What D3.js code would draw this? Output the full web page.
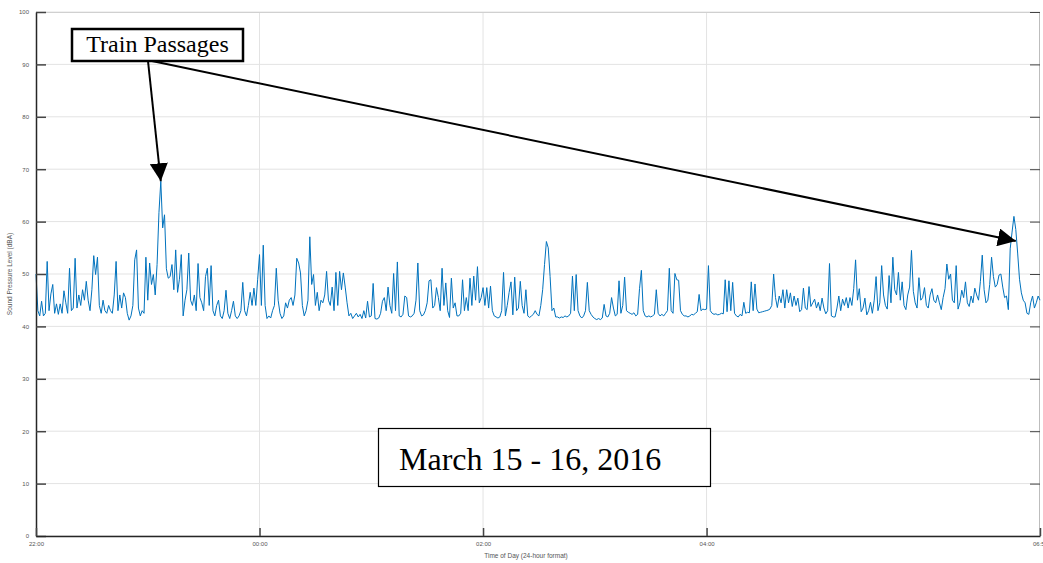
<!DOCTYPE html>
<meta charset="utf-8">
<script src="https://d3js.org/d3.v7.min.js"></script>
<style>
  body { margin: 0; background: #fff; }
</style>
<div id="chart"></div>
<script>
// Sound level, one reading per minute from 22:00 (March 15) to 06:59 (March 16)
var startTime = new Date(2016, 2, 15, 22, 0);
var endTime = new Date(2016, 2, 16, 6, 59);
var splValues = [
  50, 43, 42, 44.8, 42, 42.5, 52.4, 43, 46.2, 48,
  42.5, 44.3, 42.3, 44.3, 42.5, 46.8, 44.5, 42.5, 51.1, 43,
  43.5, 53, 43.5, 46, 44, 47, 45, 48.6, 45, 43,
  47, 53.5, 49.9, 53.2, 44, 42.5, 45, 43, 42.5, 44,
  43, 42.5, 46, 52.4, 43, 46, 43.5, 46.4, 45.5, 42.5,
  41.2, 42, 44, 52.7, 54.6, 43.5, 42, 43, 42.5, 53.2,
  45, 52.1, 48, 49.9, 46, 51.8, 61.7, 67.7, 58.8, 61.3,
  51, 49.2, 49.5, 51.8, 47, 54.6, 46.5, 49, 53.7, 42,
  45, 47, 54, 45, 44, 46, 43, 52, 45.5, 44.5,
  43, 49.5, 51.1, 44, 51.6, 43, 42, 44, 45, 42,
  41.5, 43, 46.9, 42.5, 41.5, 43, 44.8, 42, 41.5, 42,
  43, 48.4, 43, 42, 44, 46.5, 44, 47.3, 44, 49,
  53.7, 44, 55.5, 44, 41.5, 42, 41.6, 43, 44, 51.1,
  45, 42.5, 41.5, 42, 44.5, 43.5, 45, 45.5, 44, 46,
  53, 52.1, 50.2, 44, 42, 43, 45, 57.1, 48, 49.9,
  44, 46.5, 43, 45, 44.5, 46, 50.5, 45, 44, 47.5,
  43, 50.3, 44, 50.5, 47, 50.2, 47.5, 44.5, 42, 42.5,
  41.5, 42, 42.5, 41.8, 42.3, 41.5, 43, 41.6, 44.8, 41.8,
  42, 48.2, 41.5, 41.4, 41.6, 42.5, 44.8, 45.5, 43, 47.5,
  44, 42.5, 50.1, 43, 52.3, 42, 41.8, 42.3, 45.8, 45.5,
  42, 41.8, 42, 42.5, 45, 52.1, 43, 42, 42.2, 43,
  44.5, 48.7, 48.9, 43.5, 44, 47.4, 45.5, 43, 51.1, 44,
  48.3, 43, 41.7, 49.2, 43.5, 44.5, 42, 42, 42.5, 48.9,
  43, 45.5, 43, 49.2, 44, 49.6, 45, 51.4, 44.5, 45.5,
  47.4, 44, 47.4, 43.5, 47.7, 43, 42, 41.8, 41.6, 41.8,
  43, 50.3, 42, 44, 46.5, 48.5, 42.2, 49.4, 43, 43.5,
  48.6, 44, 42.5, 47, 42, 41.7, 42, 42.3, 43, 42.3,
  42, 44, 47, 51.8, 56.2, 55, 49.5, 43, 43.5, 41.8,
  41.8, 41.6, 41.8, 41.7, 42, 41.8, 42, 42.5, 49.6, 43,
  49.9, 43, 42, 41.6, 42, 43, 48.4, 43, 42.3, 41.8,
  41.5, 41.3, 41.5, 41.3, 41.6, 44.2, 42, 41.8, 42.5, 45.5,
  43.5, 42, 42.3, 48.7, 42.5, 44, 49.4, 43, 42.7, 42.5,
  42.3, 42.6, 42, 42.3, 47.2, 50.7, 43, 42, 41.8, 42,
  41.8, 42, 42.3, 47, 42.5, 42, 42.3, 42, 42.5, 43,
  51.1, 43, 42.5, 50.1, 48.9, 48.8, 43, 42.3, 42, 42,
  41.8, 42, 42.3, 42.2, 42.5, 42.8, 46.1, 43, 43.3, 43.2,
  43.3, 51.6, 43, 42.5, 42.3, 42.4, 42.2, 42.3, 42.5, 42.4,
  48.9, 42.8, 48.7, 43, 48.4, 42.5, 42, 41.8, 42.3, 42,
  44.6, 42.5, 42.7, 42.6, 48.5, 43, 48.1, 43.3, 42.6, 42.7,
  42.8, 42.9, 43, 43.1, 43.3, 44, 50, 45.5, 43.6, 45.8,
  44.5, 47, 43.5, 47, 44.5, 46.4, 43.8, 45.8, 44, 45.4,
  42.8, 43.2, 47.3, 43.5, 43.2, 47.6, 43.8, 44.5, 45.2, 43.5,
  44.6, 43, 45.4, 43.5, 42.4, 43, 52, 42, 41.8, 41.8,
  43.5, 45.8, 43, 45.2, 44, 45.5, 43.5, 45.5, 44, 47.2,
  52.7, 45, 47.2, 42.8, 43.5, 45.4, 42.2, 43, 44.6, 42.5,
  45, 49.5, 43, 44.5, 51.6, 46, 44, 43.3, 49.7, 44.5,
  53.2, 47, 46, 50.3, 45, 48.5, 44, 43.2, 46, 47.5,
  54.5, 46.7, 44.5, 43.5, 49.3, 45, 45.5, 47.4, 44, 43.5,
  46, 47.2, 45, 44.5, 46, 44.5, 43.2, 45.5, 47.2, 51.9,
  49, 50, 45, 44.5, 51.6, 43.3, 44.5, 46.9, 45.5, 48.5,
  44.5, 43.8, 45.8, 44.5, 47.3, 46, 45, 48.6, 53.6, 47,
  44.5, 45, 48, 53.2, 49.5, 47.5, 48, 49.8, 50, 47.5,
  45.5, 45.8, 43.2, 54.8, 58, 61, 58.5, 54, 49, 46.4,
  45, 44.5, 42.5, 42.3, 44.5, 45.8, 43.5, 44.5, 45.8, 45
];
var yTicks = [0, 10, 20, 30, 40, 50, 60, 70, 80, 90, 100];
var xTicks = [
  new Date(2016, 2, 15, 22, 0),
  new Date(2016, 2, 16, 0, 0),
  new Date(2016, 2, 16, 2, 0),
  new Date(2016, 2, 16, 4, 0),
  endTime
];
// where the two arrows land: minute index into splValues, and level in dBA
var arrowMinutes = [67, 526];
var arrowLevels = [67.7, 56.3];
var calloutText = "Train Passages";
var dateText = "March 15 - 16, 2016";

var W = 1043, H = 563;
var margin = {top: 12, right: 3, bottom: 27, left: 36},
    width = W - margin.left - margin.right,
    height = H - margin.top - margin.bottom;

var data = splValues.map(function(v, i) {
  return {t: d3.timeMinute.offset(startTime, i), v: v};
});

var svg = d3.select("#chart").append("svg")
    .attr("width", W)
    .attr("height", H)
    .style("font-family", "Liberation Sans, Arial, sans-serif");

var g = svg.append("g")
    .attr("transform", "translate(" + margin.left + "," + margin.top + ")");

var x = d3.scaleTime().domain([startTime, endTime]).range([0, width]);
var y = d3.scaleLinear().domain([0, 100]).range([height, 0]);

// grid
g.append("g").selectAll("line")
  .data(yTicks)
  .enter().append("line")
    .attr("x1", 0).attr("x2", width)
    .attr("y1", function(d) { return y(d); })
    .attr("y2", function(d) { return y(d); })
    .attr("stroke", "#e3e3e3")
    .attr("stroke-width", 1);
g.append("g").selectAll("line")
  .data(xTicks.slice(1, 4))
  .enter().append("line")
    .attr("x1", function(d) { return x(d); })
    .attr("x2", function(d) { return x(d); })
    .attr("y1", 0).attr("y2", height)
    .attr("stroke", "#e3e3e3")
    .attr("stroke-width", 1);

// box on top and right
g.append("line").attr("x1", 0).attr("x2", width).attr("y1", 0.5).attr("y2", 0.5)
  .attr("stroke", "#d0d0d0");
g.append("line").attr("x1", width - 0.5).attr("x2", width - 0.5).attr("y1", 0).attr("y2", height)
  .attr("stroke", "#bdbdbd");

// the series
var line = d3.line()
  .x(function(d) { return x(d.t); })
  .y(function(d) { return y(d.v); });

g.append("path")
  .datum(data)
  .attr("fill", "none")
  .attr("stroke", "#0072bd")
  .attr("stroke-width", 1)
  .attr("d", line);

// axes (ticks point inwards, MATLAB style)
var yAxis = d3.axisLeft(y).tickValues(yTicks).tickSizeInner(-10).tickSizeOuter(0).tickPadding(7);
var yAxisR = d3.axisRight(y).tickValues(yTicks).tickSizeInner(-10).tickSizeOuter(0).tickFormat("");
var xAxis = d3.axisBottom(x).tickValues(xTicks).tickSizeInner(-8).tickSizeOuter(0)
  .tickPadding(6).tickFormat(d3.timeFormat("%H:%M"));

g.append("g").call(yAxisR)
  .attr("transform", "translate(" + width + ",0)")
  .call(function(s) {
    s.select(".domain").remove();
    s.selectAll(".tick line").attr("stroke", "#444");
  });

var ya = g.append("g").call(yAxis);
var xa = g.append("g").attr("transform", "translate(0," + height + ")").call(xAxis);

[ya, xa].forEach(function(a) {
  a.select(".domain").attr("stroke", "#262626").attr("stroke-width", 1.5);
  a.selectAll(".tick line").attr("stroke", "#444").attr("stroke-width", 1.5);
  a.selectAll(".tick text").attr("fill", "#555").style("font-size", "6px");
});

// axis titles
svg.append("text")
  .attr("transform", "translate(12," + (margin.top + height / 2) + ")rotate(-90)")
  .attr("text-anchor", "middle")
  .attr("fill", "#555")
  .style("font-size", "6.5px")
  .text("Sound Pressure Level (dBA)");

svg.append("text")
  .attr("x", 526)
  .attr("y", 558)
  .attr("text-anchor", "middle")
  .attr("fill", "#555")
  .style("font-size", "6.5px")
  .text("Time of Day (24-hour format)");

// arrows
var defs = svg.append("defs");
defs.append("marker")
    .attr("id", "head")
    .attr("viewBox", "0 0 10 10")
    .attr("refX", 10).attr("refY", 5)
    .attr("markerWidth", 9).attr("markerHeight", 9)
    .attr("markerUnits", "strokeWidth")
    .attr("orient", "auto")
  .append("path")
    .attr("d", "M0,0 L10,5 L0,10 Z")
    .attr("fill", "#000");

var boxL = 72, boxT = 29, boxW = 171, boxH = 32;
var starts = [[148, boxT + boxH], [152, boxT + boxH]];
arrowMinutes.forEach(function(m, i) {
  svg.append("line")
    .attr("x1", starts[i][0]).attr("y1", starts[i][1])
    .attr("x2", margin.left + x(d3.timeMinute.offset(startTime, m)))
    .attr("y2", margin.top + y(arrowLevels[i]))
    .attr("stroke", "#000")
    .attr("stroke-width", 2)
    .attr("marker-end", "url(#head)");
});

// callout box
svg.append("rect")
  .attr("x", boxL).attr("y", boxT)
  .attr("width", boxW).attr("height", boxH)
  .attr("fill", "#fff").attr("stroke", "#000").attr("stroke-width", 2.5);
svg.append("text")
  .attr("x", boxL + boxW / 2).attr("y", boxT + 23)
  .attr("text-anchor", "middle")
  .style("font-family", "Liberation Serif, Times New Roman, serif")
  .style("font-size", "24px")
  .text(calloutText);

// date box
svg.append("rect")
  .attr("x", 378.5).attr("y", 428.5)
  .attr("width", 332).attr("height", 58)
  .attr("fill", "#fff").attr("stroke", "#000").attr("stroke-width", 1.2);
svg.append("text")
  .attr("x", 399).attr("y", 470)
  .style("font-family", "Liberation Serif, Times New Roman, serif")
  .style("font-size", "32px")
  .text(dateText);
</script>
